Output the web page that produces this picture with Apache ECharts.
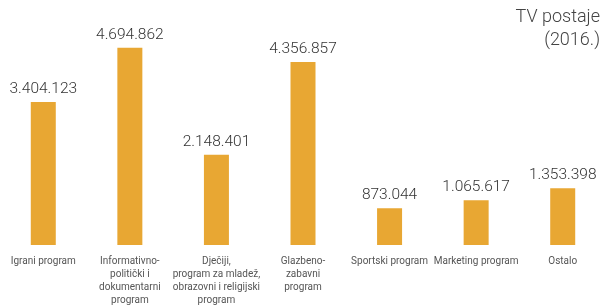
<!DOCTYPE html>
<html><head><meta charset="utf-8">
<script src="https://cdn.jsdelivr.net/npm/echarts@6/dist/echarts.min.js"></script>
<style>html,body{margin:0;padding:0;background:#fff}#c{width:606px;height:307px}</style>
</head><body><div id="c"></div>
<script>
const categories = [
  "Igrani program",
  "Informativno-\npolitički i\ndokumentarni\nprogram",
  "Dječiji,\nprogram za mladež,\nobrazovni i religijski\nprogram",
  "Glazbeno-\nzabavni\nprogram",
  "Sportski program",
  "Marketing program",
  "Ostalo"
];
const values = [3404123, 4694862, 2148401, 4356857, 873044, 1065617, 1353398];
const titleLines = ["TV postaje", "(2016.)"];

function fmt(v){ return String(v).replace(/\B(?=(\d{3})+(?!\d))/g, "."); }

const titleStyle = {fontFamily:'Roboto', fontWeight:300, fontSize:18, fill:'#444'};
const chart = echarts.init(document.getElementById('c'), null, {renderer:'canvas'});
chart.setOption({
  animation:false,
  backgroundColor:'#fff',
  graphic: titleLines.map((t, i) => ({
    type:'text', right:6, top:8 + i*23,
    style:Object.assign({text:t}, titleStyle)
  })),
  grid:{left:-1, width:612, top:14, bottom:60},
  xAxis:{
    type:'category', data:categories,
    axisLine:{show:false}, axisTick:{show:false},
    axisLabel:{interval:0, margin:10, fontFamily:'Roboto', fontSize:10, lineHeight:13, color:'#555', align:'center'}
  },
  yAxis:{type:'value', min:0, max:5500000, show:false, splitLine:{show:false}},
  series:[{
    type:'bar', data:values, barWidth:25,
    itemStyle:{color:'#E8A733'},
    label:{show:true, position:'top', distance:5, formatter:p=>fmt(p.value),
      fontFamily:'Roboto', fontWeight:300, fontSize:15.5, color:'#333'}
  }]
});
</script></body></html>
